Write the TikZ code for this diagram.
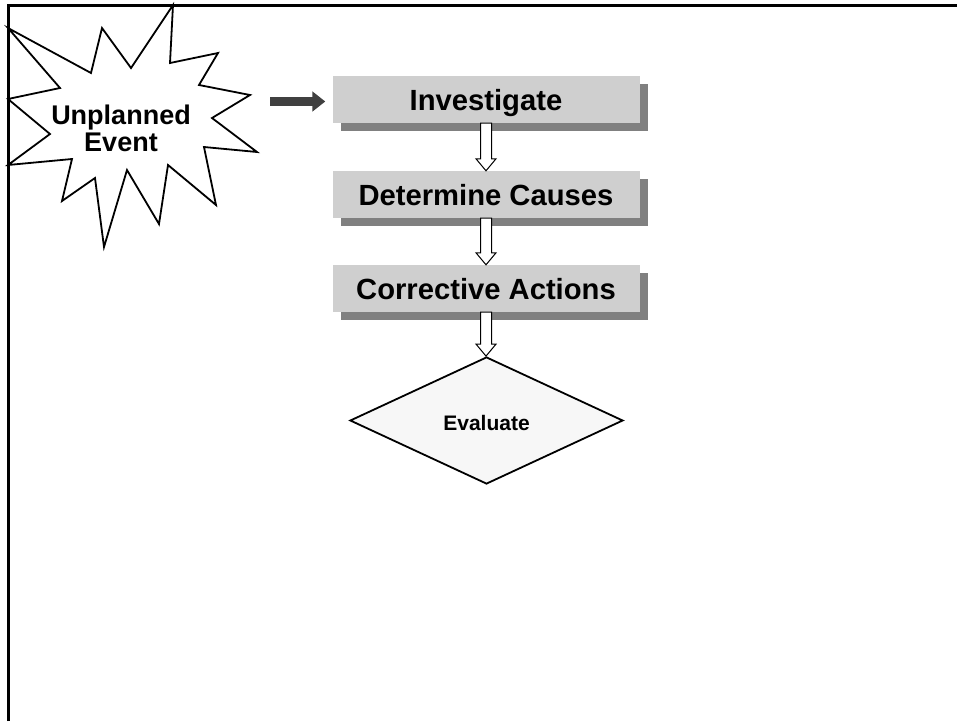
\documentclass[tikz,border=0pt]{standalone}
\usepackage{fontspec}
\setmainfont{Liberation Sans}
\usetikzlibrary{arrows.meta,shapes.geometric,shadows,calc}

\definecolor{boxfill}{HTML}{CFCFCF}
\definecolor{boxshadow}{HTML}{808080}
\definecolor{darkarrow}{HTML}{404040}
\definecolor{decisionfill}{HTML}{F7F7F7}

\tikzset{
  stepbox/.style={rectangle, fill=boxfill, minimum width=307pt, minimum height=47pt,
    inner sep=0pt, text height=22pt, text depth=0pt,
    font=\fontsize{29.2}{31}\selectfont\bfseries,
    drop shadow={shadow xshift=8pt, shadow yshift=-8pt, fill=boxshadow, opacity=1}},
  decision/.style={diamond, draw=black, line width=1.8pt, fill=decisionfill,
    minimum width=273pt, minimum height=127pt, inner sep=0pt, text height=21pt,
    font=\fontsize{21}{22}\selectfont\bfseries},
  burst/.style={draw=black, fill=white, line width=1.8pt, line join=miter},
  burstlabel/.style={align=center, inner sep=0pt, font=\fontsize{27}{27}\selectfont\bfseries},
  feed/.style={draw=darkarrow, line width=9.5pt,
    -{Triangle[width=19.5pt,length=13pt]}, shorten >=7pt},
  hollow/.style={draw=black, fill=white, line width=1pt, line join=miter,
    to path={let \p1=(\tikztostart), \p2=(\tikztotarget) in
      (\x1-5.5pt,\y1) -- (\x1-5.5pt,\y2+12pt) -- (\x1-10pt,\y2+12pt) -- (\x1,\y2)
      -- (\x1+10pt,\y2+12pt) -- (\x1+5.5pt,\y2+12pt) -- (\x1+5.5pt,\y1) -- cycle}},
  frameline/.style={draw=black, line width=2.2pt}
}

\begin{document}
\begin{tikzpicture}[x=1pt,y=-1pt]
\useasboundingbox (0,0) rectangle (957,721);
\fill[white] (0,0) rectangle (957,721);

% starburst for the triggering event
\path[burst] (8,28) -- (91,73) -- (102,28) -- (131,68) -- (173,5) -- (170,63)
  -- (218,53) -- (199,85) -- (250,95) -- (212,118) -- (257,152) -- (204,147)
  -- (216,205) -- (168,165) -- (159,224) -- (127,170) -- (104,247) -- (95,178)
  -- (62,201) -- (72,159) -- (8,165) -- (50,134) -- (8,99) -- (60,88) -- cycle;
\node[burstlabel] (event) at (121,128.6) {Unplanned\\Event};

% frame along the top and left edges
\draw[frameline] (8.5,721) -- (8.5,5.5) -- (957,5.5);

% process steps
\node[stepbox] (inv)  at (486,99.5)  {Investigate};
\node[stepbox] (det)  at (486,194.5) {Determine Causes};
\node[stepbox] (corr) at (486,288.5) {Corrective Actions};
\node[decision] (eval) at (486.5,420.5) {Evaluate};

% connectors
\coordinate (feedstart) at (270,101.5);
\draw[feed] (feedstart) -- (feedstart -| inv.west);
\draw[hollow] (inv.south)  to (det.north);
\draw[hollow] (det.south)  to (corr.north);
\draw[hollow] (corr.south) to (eval.north);
\end{tikzpicture}
\end{document}
